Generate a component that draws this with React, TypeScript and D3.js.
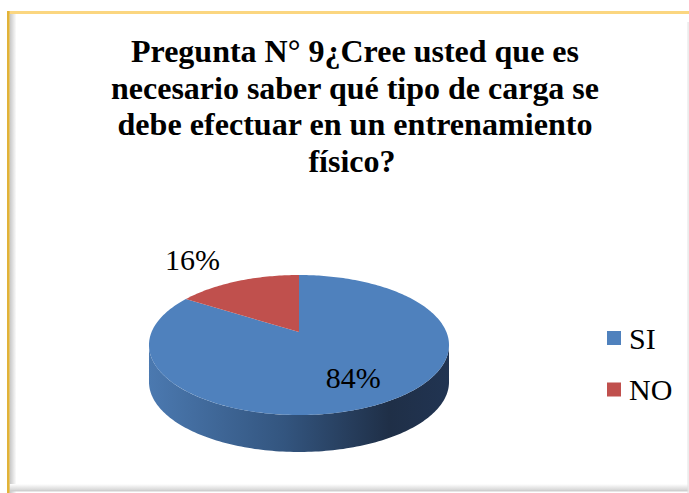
import React from 'react'
import * as d3 from 'd3'

const categories = ['SI', 'NO']
const values = [84, 16]
const labels = ['84%', '16%']
const colors = ['#4f81bd', '#c0504d']
const titleLines = [
  'Pregunta N° 9¿Cree usted que es',
  'necesario saber qué tipo de carga se',
  'debe efectuar en un entrenamiento',
  'físico?'
]
const titleWidths = [448, 488, 475, 0]

const W = 689
const H = 493

// 3d pie, tilted with a bit of perspective
const cx = 299
const cy = 332
const rx = 147.4
const persp = 0.1857
const yTilt = 5.93
const depth = 37

const serif =
  '"Liberation Serif", LiberationSerif, Tinos, "DejaVu Serif", DejaVuSerif, "Noto Serif", FreeSerif, "Nimbus Roman", "Times New Roman", Times, serif'

function project(angle: number, r: number): [number, number] {
  const u = r * Math.sin(angle)
  const v = -r * Math.cos(angle)
  const w = 1 - persp * v
  return [cx + (rx * u) / w, (yTilt * v + cy) / w]
}

function arcPoints(a0: number, a1: number, dy = 0): [number, number][] {
  const n = Math.max(2, Math.ceil(Math.abs(a1 - a0) / 0.02))
  return d3.range(n + 1).map(i => {
    const p = project(a0 + ((a1 - a0) * i) / n, 1)
    return [p[0], p[1] + dy] as [number, number]
  })
}

const line = d3.line<[number, number]>()

export default function App() {
  const pie = d3.pie<number>().sort(null).startAngle(0).endAngle(2 * Math.PI)
  const arcs = pie(values)

  // visible front wall, between the two silhouette points
  const aRight = Math.acos(-persp)
  const aLeft = 2 * Math.PI - aRight
  const wall = [...arcPoints(aRight, aLeft), ...arcPoints(aLeft, aRight, depth)]

  const legendY = d3.scalePoint<string>().domain(categories).range([338, 389.5])
  const txt = { fontFamily: serif }

  return (
    <svg width={W} height={H} style={{ position: 'absolute', left: 0, top: 0, background: '#fff' }}>
      <defs>
        <linearGradient id="side" x1={cx - rx * 1.02} x2={cx + rx * 1.02} y1="0" y2="0" gradientUnits="userSpaceOnUse">
          <stop offset="0" stopColor="#4b79b0" />
          <stop offset="0.45" stopColor="#33557f" />
          <stop offset="0.8" stopColor="#1f2f47" />
          <stop offset="1" stopColor="#213452" />
        </linearGradient>
        <linearGradient id="lshade" x1="0" x2="1" y1="0" y2="0">
          <stop offset="0" stopColor="#c4c4c4" />
          <stop offset="1" stopColor="#ffffff" />
        </linearGradient>
        <linearGradient id="bshade" x1="0" x2="0" y1="0" y2="1">
          <stop offset="0" stopColor="#ffffff" />
          <stop offset="1" stopColor="#d6d6d6" />
        </linearGradient>
      </defs>

      {/* frame */}
      <rect x={9.5} y={14} width={7} height={H - 14} fill="url(#lshade)" />
      <rect x={9.5} y={484} width={W - 10} height={6} fill="url(#bshade)" />
      <rect x={9.5} y={490} width={W - 10} height={1.5} fill="#cfcfcf" />
      <rect x={687.5} y={22} width={1.2} height={H - 22} fill="#e4e4e4" />
      <rect x={7} y={11} width={W - 7} height={3} fill="#fbd680" />
      <rect x={7} y={11} width={2.6} height={H - 11} fill="#e2b338" />

      {/* title */}
      {titleLines.map((t, i) => (
        <text
          key={i}
          x={i === 3 ? 352 : 355}
          y={62 + i * 36.7}
          textAnchor="middle"
          style={txt}
          fontWeight="bold"
          fontSize={32}
          fill="#000"
          {...(titleWidths[i] ? { textLength: titleWidths[i], lengthAdjust: 'spacingAndGlyphs' } : {})}
        >
          {t}
        </text>
      ))}

      {/* side wall */}
      <path d={line(wall) + 'Z'} fill="url(#side)" />

      {/* top faces */}
      {arcs.map((a, i) => (
        <path
          key={categories[i]}
          d={line([project(0, 0), ...arcPoints(a.startAngle, a.endAngle)]) + 'Z'}
          fill={colors[i]}
        />
      ))}

      {/* data labels */}
      {arcs.map((a, i) => {
        const mid = (a.startAngle + a.endAngle) / 2
        if (a.value >= 50) {
          const p = project(mid, 0.68)
          return (
            <text key={i} x={p[0]} y={p[1]} dy="0.35em" textAnchor="middle" style={txt} fontSize={30} fill="#000">
              {labels[i]}
            </text>
          )
        }
        const p = project(mid, 1)
        return (
          <text key={i} x={p[0] - 18} y={p[1] - 11} textAnchor="end" style={txt} fontSize={30} fill="#000">
            {labels[i]}
          </text>
        )
      })}

      {/* legend */}
      {categories.map((c, i) => (
        <g key={c} transform={`translate(607,${legendY(c)})`}>
          <rect x={0} y={-7} width={14} height={14} fill={colors[i]} />
          <text x={22} y={0} dy="0.35em" style={txt} fontSize={30} fill="#000">
            {c}
          </text>
        </g>
      ))}
    </svg>
  )
}
